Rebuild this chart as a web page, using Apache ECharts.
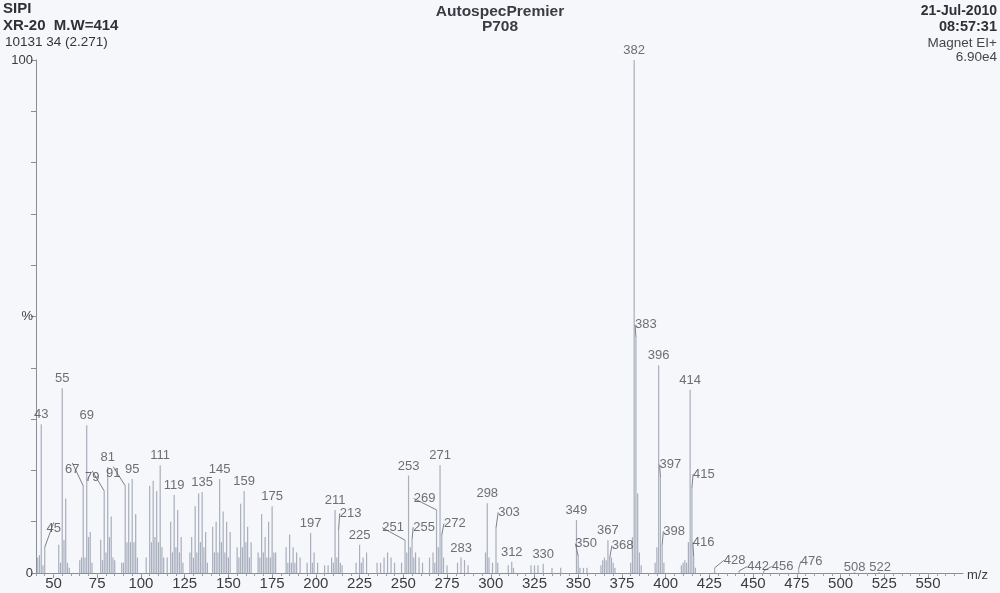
<!DOCTYPE html>
<html>
<head>
<meta charset="utf-8">
<script src="https://cdn.jsdelivr.net/npm/echarts@6/dist/echarts.min.js"></script>
<style>
html,body{margin:0;padding:0;background:#f6f7fa;}
#chart{width:1000px;height:593px;}
</style>
</head>
<body>
<div id="chart"></div>
<script>
// m/z values and relative intensities (%)
const mz = [41,42,43,44,45,53,54,55,56,57,58,59,
  65,66,67,68,69,70,71,72,
  77,78,79,80,81,82,83,84,85,
  89,90,91,92,93,94,95,96,97,98,
  103,105,106,107,108,109,110,111,112,113,
  115,117,118,119,120,121,122,123,124,
  128,129,130,131,132,133,134,135,136,137,138,
  141,142,143,144,145,146,147,148,149,150,151,
  155,156,157,158,159,160,161,162,163,
  167,168,169,170,171,172,173,174,175,176,177,
  183,184,185,186,187,188,189,191,
  195,197,198,199,201,205,207,209,210,211,212,213,214,215,
  223,225,226,227,229,235,237,239,241,243,245,
  249,251,252,253,254,255,256,257,259,261,265,267,268,269,270,271,272,273,275,
  281,283,285,287,297,298,299,301,303,304,310,312,313,
  323,325,327,330,335,340,349,350,351,353,355,
  363,364,365,366,367,368,369,370,371,
  380,381,382,383,384,385,386,
  394,395,396,397,398,399,
  409,410,411,412,413,414,415,416,417,
  428,442,456,476,508,522];
const intensity = [3,3.5,29,1.5,5,5.5,2,36,6.5,14.5,2,1,
  2.5,3,17,3,28.8,7,8,2,
  6.5,2.5,16,4,20.7,7,11,3,2.5,
  2,2,17,6,17.5,6,18.3,6,11.5,3,
  3,17,6,18,7,16,6,21,5,3,
  3,10,4,15.2,5,12.3,4,7,2,
  4,7,3,13,4,15.5,6,15.8,5,8,2,
  9,4,10,4,18.3,6,12,4,10,3,8,
  5,3,13.5,5,16,6,9,3,6,
  4,3,11.5,4,7,3,10,3,13,4,4,
  5,2,7.5,2,5,2,4,3,
  2,7.8,2,4,2,1.5,1.5,3,2,12.3,3,8.4,2,1.5,
  2,5.5,2,3,4,2,2,3,4,3,2,
  2,6.4,4,19,5,6.5,3,4,3,2,3,4,2,12.3,5,21,7.4,3,1.5,
  2,3,2.5,1.5,4,13.6,3,2,8.8,2,1.5,2.2,1,
  1.5,1.5,1.5,1.8,1,1,10.3,3.3,1,1,1,
  1.5,2.5,3,2.5,6.4,2.9,3,2,1,
  2,7,100,46,15.5,4,1.5,
  2,5,40.5,18.7,5.5,2,
  1.5,2,2.5,2,6,35.7,16.6,3.3,1,
  1,0.4,0.4,0.8,0.2,0.2];
// peaks labelled directly above the bar
const labelledPlain = [43,55,69,81,95,111,119,135,145,159,175,197,211,225,
  253,271,283,298,312,330,349,367,382,396,414,508,522];
// peaks labelled with a short leader line
const labelledLeader = [45,67,79,91,213,251,255,269,272,303,350,368,383,397,398,
  415,416,428,442,456,476];
const xTicks = [50,75,100,125,150,175,200,225,250,275,300,325,350,375,400,425,450,475,500,525,550];
const xMinorTicks = [];
for (let v = 40; v <= 565; v += 5) xMinorTicks.push(v);
const yTickLabels = {0: '0', 50: '%', 100: '100'};

// label offsets (styling only): [dx, dy] in px
const labelShift = {45:[9,-9],67:[-11,-7],79:[-12,-4],91:[-12,-3],213:[12,-7],251:[-12,-3],
  255:[12,-3],269:[-12,-2],272:[13,-2],303:[13,-6],350:[8,-3],368:[13,-3],383:[10,-3],
  397:[10,-3],398:[12,-4],415:[12,-4],416:[10,-4],428:[20,2],442:[19,5],456:[19,5],
  476:[13,2],508:[0,5],522:[1,5]};

const barData = mz.map((m, i) => [m, intensity[i]]);
const toPoint = m => [m, intensity[mz.indexOf(m)]];
const plainData = labelledPlain.map(toPoint);
const leaderData = labelledLeader.map(toPoint);

const chart = echarts.init(document.getElementById('chart'));
const font = 'Liberation Sans, Arial, sans-serif';
const peakLabel = {
  show: true, position: 'top', distance: 3,
  formatter: p => String(p.value[0]),
  color: '#4a4c54', fontSize: 13, fontFamily: font
};
const shiftFn = data => params => {
  const s = labelShift[data[params.dataIndex][0]];
  return s ? {dx: s[0], dy: s[1]} : {};
};
chart.setOption({
  backgroundColor: '#f6f7fa',
  animation: false,
  grid: {left: 36, right: 37, top: 60, bottom: 20},
  xAxis: [{
    type: 'value', min: 40, max: 570,
    axisLine: {show: true, lineStyle: {color: '#8a8d96', width: 1}},
    axisTick: {show: true, length: 5, customValues: xTicks, lineStyle: {color: '#8a8d96'}},
    axisLabel: {customValues: xTicks, color: '#3a3c44', fontSize: 15, fontFamily: font, margin: 3},
    splitLine: {show: false}
  }, {
    type: 'value', min: 40, max: 570, position: 'bottom',
    axisLine: {show: false},
    axisTick: {show: true, length: 3, customValues: xMinorTicks, lineStyle: {color: '#9a9da6'}},
    axisLabel: {show: false},
    splitLine: {show: false}
  }],
  yAxis: {
    type: 'value', min: 0, max: 100, interval: 10,
    axisLine: {show: true, lineStyle: {color: '#8a8d96', width: 1}},
    axisTick: {show: true, length: 5, lineStyle: {color: '#8a8d96'}},
    axisLabel: {
      color: '#3a3c44', fontSize: 13, fontFamily: font, margin: 3,
      formatter: v => (yTickLabels[v] !== undefined ? yTickLabels[v] : '')
    },
    splitLine: {show: false}
  },
  graphic: [
    {type: 'text', left: 3, top: 1, style: {text: 'SIPI', font: 'bold 15px ' + font, fill: '#2f3038'}},
    {type: 'text', left: 3, top: 18, style: {text: 'XR-20  M.W=414', font: 'bold 15px ' + font, fill: '#2f3038'}},
    {type: 'text', left: 5, top: 35, style: {text: '10131 34 (2.271)', font: '13.5px ' + font, fill: '#33353d'}},
    {type: 'text', left: 'center', top: 4, style: {text: 'AutospecPremier', font: 'bold 15.5px ' + font, fill: '#3a3c44', textAlign: 'center'}},
    {type: 'text', left: 'center', top: 19, style: {text: 'P708', font: 'bold 15.5px ' + font, fill: '#3a3c44', textAlign: 'center'}},
    {type: 'text', right: 3, top: 4, style: {text: '21-Jul-2010', font: 'bold 14px ' + font, fill: '#2f3038', textAlign: 'right'}},
    {type: 'text', right: 3, top: 19, style: {text: '08:57:31', font: 'bold 14.5px ' + font, fill: '#2f3038', textAlign: 'right'}},
    {type: 'text', right: 3, top: 36, style: {text: 'Magnet EI+', font: '13.5px ' + font, fill: '#44464e', textAlign: 'right'}},
    {type: 'text', right: 3, top: 50, style: {text: '6.90e4', font: '13.5px ' + font, fill: '#44464e', textAlign: 'right'}},
    {type: 'text', left: 967, top: 569, style: {text: 'm/z', font: '13px ' + font, fill: '#3a3c44'}}
  ],
  series: [{
    type: 'bar',
    data: barData,
    barWidth: 1.2,
    itemStyle: {color: '#a7aebd'},
    silent: true
  }, {
    type: 'scatter',
    data: plainData,
    symbolSize: 0,
    silent: true,
    label: peakLabel,
    labelLayout: shiftFn(plainData)
  }, {
    type: 'scatter',
    data: leaderData,
    symbolSize: 0,
    silent: true,
    label: peakLabel,
    labelLine: {show: true, lineStyle: {color: '#7d808a', width: 1}},
    labelLayout: shiftFn(leaderData)
  }]
});
</script>
</body>
</html>
